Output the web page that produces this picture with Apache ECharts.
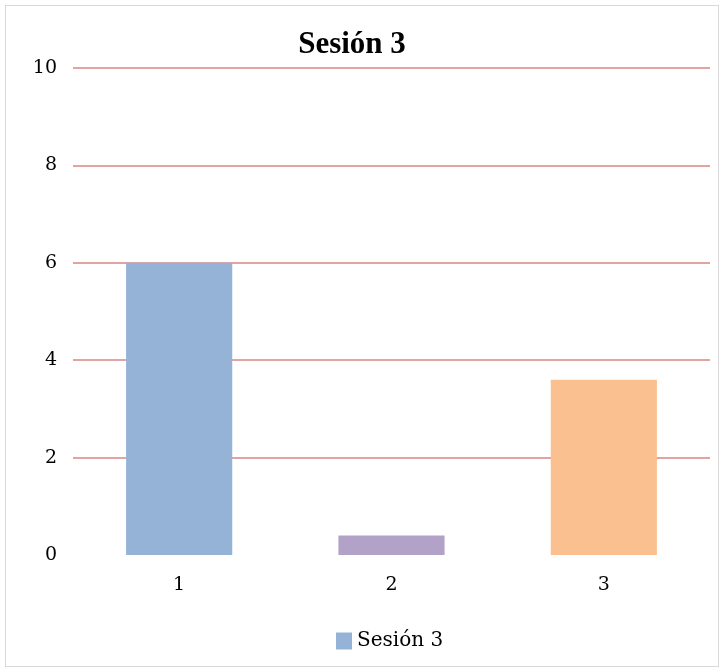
<!DOCTYPE html>
<html>
<head>
<meta charset="utf-8">
<script src="https://cdn.jsdelivr.net/npm/echarts@6/dist/echarts.min.js"></script>
<style>
  html, body { margin: 0; padding: 0; background: #fff; }
  #frame { position: absolute; left: 5px; top: 5px; width: 714px; height: 662px; border: 1px solid #d9d9d9; box-sizing: border-box; }
  #chart { width: 725px; height: 672px; position: absolute; left: 0; top: 0; }
</style>
</head>
<body>
<div id="frame"></div>
<div id="chart"></div>
<script>
// Session scores per item
const categories = ['1', '2', '3'];
const values = [6, 0.4, 3.6];
const barColors = ['#95B3D7', '#B3A2C7', '#FAC090'];
const yTicks = [0, 2, 4, 6, 8, 10];
const seriesName = 'Sesión 3';

const labelFont = 'DejaVu Serif';

const chart = echarts.init(document.getElementById('chart'));
chart.setOption({
  animation: false,
  backgroundColor: 'transparent',
  title: {
    text: seriesName,
    left: 347,
    textAlign: 'center',
    top: 24,
    textStyle: { fontFamily: 'Liberation Serif', fontWeight: 'bold', fontSize: 31, color: '#000' }
  },
  legend: {
    top: 626,
    left: 331,
    itemWidth: 16,
    itemHeight: 17,
    itemGap: 5,
    textStyle: { fontFamily: labelFont, fontSize: 20, color: '#000' },
    data: [{ name: seriesName, icon: 'rect' }]
  },
  grid: { left: 73, right: 15, top: 68, bottom: 117, containLabel: false },
  xAxis: {
    type: 'category',
    data: categories,
    axisLine: { show: false },
    axisTick: { show: false },
    axisLabel: { fontFamily: labelFont, fontSize: 19, color: '#000', margin: 21 }
  },
  yAxis: {
    type: 'value',
    min: yTicks[0],
    max: yTicks[yTicks.length - 1],
    interval: 2,
    axisLine: { show: false },
    axisTick: { show: false },
    axisLabel: { fontFamily: labelFont, fontSize: 19, color: '#000', margin: 16 },
    splitLine: {
      lineStyle: { color: '#E3A3A3', width: 2 },
      showMinLine: false
    }
  },
  series: [{
    name: seriesName,
    type: 'bar',
    barWidth: '50%',
    color: barColors[0],
    data: values.map((v, i) => ({ value: v, itemStyle: { color: barColors[i] } }))
  }]
});
</script>
</body>
</html>
